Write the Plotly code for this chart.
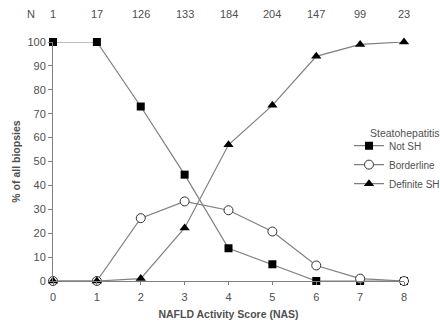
import plotly.graph_objects as go

nas_scores = [0, 1, 2, 3, 4, 5, 6, 7, 8]
n_counts = [1, 17, 126, 133, 184, 204, 147, 99, 23]
not_sh = [100, 100, 73, 44.5, 13.7, 7, 0, 0, 0]
borderline = [0, 0, 26.3, 33.3, 29.6, 20.7, 6.5, 1, 0]
definite_sh = [0, 0, 1, 22.2, 57, 73.5, 94, 99, 100]

FONT = "Liberation Sans, Arial, sans-serif"
TXT = "#505050"
LINE = "#7f7f7f"

W, H = 440, 329
L, T = 53, 41.5
PW, PH = 351, 240
R, B = W - L - PW, H - T - PH


def px_x(px):
    return (px - L) / PW


def px_y(py):
    return (T + PH - py) / PH


fig = go.Figure()
series = [
    ("Not SH", not_sh, dict(symbol="square", size=8, color="black")),
    ("Borderline", borderline, dict(symbol="circle", size=9, color="white",
                                    line=dict(color="#333333", width=1))),
    ("Definite SH", definite_sh, dict(symbol="triangle-up", size=9, color="black")),
]
for name, vals, mk in series:
    fig.add_trace(go.Scatter(
        x=nas_scores, y=vals, name=name, mode="lines+markers",
        line=dict(color=LINE, width=1.2), marker=mk, cliponaxis=False,
    ))

annotations = [
    dict(text="N", x=px_x(31), y=px_y(13), xref="paper", yref="paper", showarrow=False,
         font=dict(family=FONT, size=11, color=TXT), xanchor="center", yanchor="middle"),
    dict(text="Steatohepatitis", x=px_x(367.5), y=px_y(133),
         xref="paper", yref="paper", showarrow=False, xanchor="left", yanchor="middle",
         font=dict(family=FONT, size=10.5, color=TXT)),
]
for xv, n in zip(nas_scores, n_counts):
    annotations.append(dict(text=str(n), x=xv, y=px_y(13), xref="x", yref="paper",
                            showarrow=False, xanchor="center", yanchor="middle",
                            font=dict(family=FONT, size=11, color=TXT)))

fig.update_layout(
    width=W, height=H,
    margin=dict(l=L, r=R, t=T, b=B, autoexpand=False),
    paper_bgcolor="white", plot_bgcolor="white",
    font=dict(family=FONT, size=11, color=TXT),
    showlegend=True,
    legend=dict(x=px_x(349), y=px_y(131), xanchor="left", yanchor="top",
                bgcolor="rgba(0,0,0,0)", font=dict(family=FONT, size=10, color=TXT),
                tracegroupgap=0),
    annotations=annotations,
    xaxis=dict(range=[0, 8], tickvals=nas_scores, showgrid=False, zeroline=False,
               showline=True, linecolor=LINE, linewidth=1, ticks="outside", ticklen=3,
               tickcolor=LINE, ticklabelstandoff=3,
               tickfont=dict(family=FONT, size=11, color=TXT),
               title=dict(text="<b>NAFLD Activity Score (NAS)</b>", standoff=8,
                          font=dict(family=FONT, size=10.5, color=TXT))),
    yaxis=dict(range=[0, 100], tickvals=list(range(0, 101, 10)), showgrid=False,
               zeroline=False, showline=True, linecolor=LINE, linewidth=1,
               ticks="outside", ticklen=4, tickcolor=LINE,
               tickfont=dict(family=FONT, size=11, color=TXT),
               title=dict(text="<b>% of all biopsies</b>", standoff=4,
                          font=dict(family=FONT, size=10.5, color=TXT))),
)

fig.write_html("out.html",
               config={"displayModeBar": False},
               post_script="document.body.style.margin='0';document.body.style.overflow='hidden';")
